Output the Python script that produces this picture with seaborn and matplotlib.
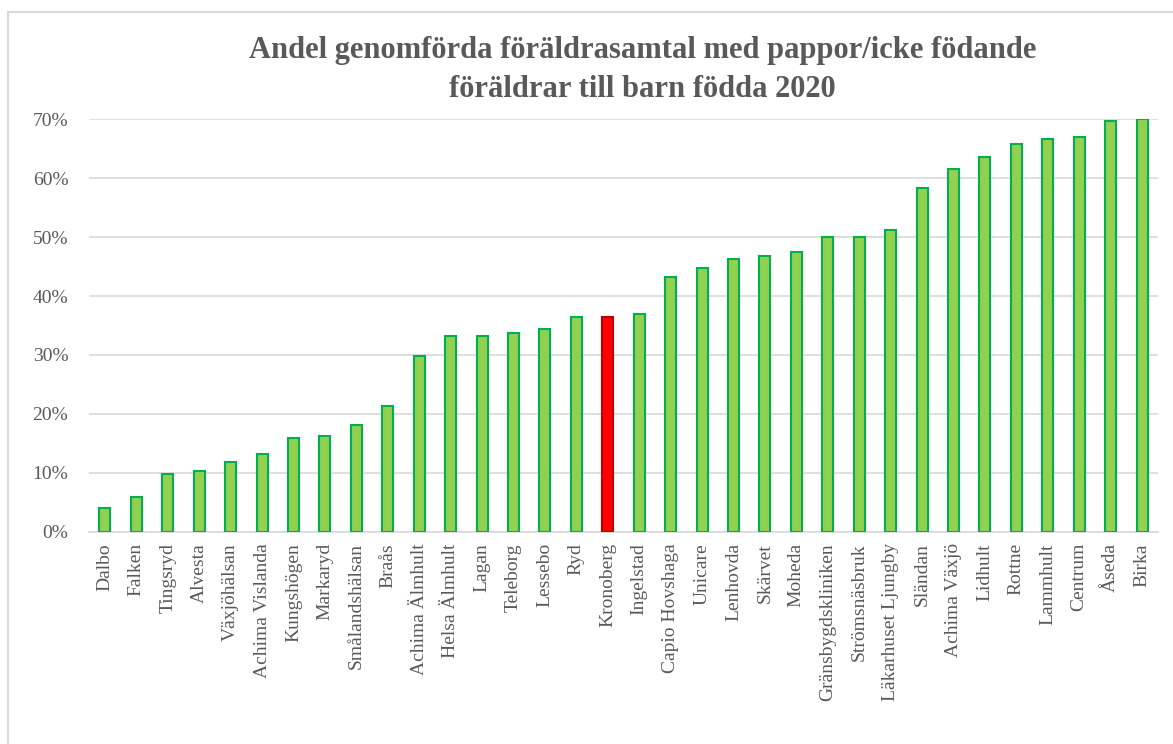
import matplotlib
matplotlib.use("Agg")
import matplotlib.pyplot as plt
import seaborn as sns
import pandas as pd
from matplotlib.patches import Rectangle
from matplotlib.ticker import PercentFormatter

# =======================
# Data
# =======================
units = [
    "Dalbo", "Falken", "Tingsryd", "Alvesta", "Växjöhälsan", "Achima Vislanda",
    "Kungshögen", "Markaryd", "Smålandshälsan", "Braås", "Achima Älmhult",
    "Helsa Älmhult", "Lagan", "Teleborg", "Lessebo", "Ryd", "Kronoberg",
    "Ingelstad", "Capio Hovshaga", "Unicare", "Lenhovda", "Skärvet", "Moheda",
    "Gränsbygdskliniken", "Strömsnäsbruk", "Läkarhuset Ljungby", "Sländan",
    "Achima Växjö", "Lidhult", "Rottne", "Lammhult", "Centrum", "Åseda", "Birka",
]
share = [
    4.0, 5.9, 9.9, 10.4, 11.8, 13.2,
    15.9, 16.2, 18.2, 21.4, 29.8,
    33.3, 33.3, 33.8, 34.4, 36.4, 36.5,
    37.0, 43.3, 44.8, 46.2, 46.8, 47.5,
    50.0, 50.0, 51.2, 58.3,
    61.6, 63.6, 65.8, 66.7, 67.0, 69.6, 70.0,
]
highlight = "Kronoberg"

df = pd.DataFrame({"unit": units, "share": share})
fills = {u: ("#FF0000" if u == highlight else "#92D050") for u in units}
edges = ["#C00000" if u == highlight else "#00B050" for u in units]

# =======================
# Plot
# =======================
sns.set_style("white")
plt.rcParams["font.family"] = ["Liberation Serif", "DejaVu Serif"]

fig = plt.figure(figsize=(11.73, 7.44), dpi=100)
ax = fig.add_axes([0.076, 0.285, 0.911, 0.555])

sns.barplot(data=df, x="unit", y="share", hue="unit", palette=fills,
            saturation=1, legend=False, width=0.35, ax=ax, zorder=3)
for bar, ec in zip(ax.patches, edges):
    bar.set_edgecolor(ec)
    bar.set_linewidth(1.5)

ax.set_ylim(0, 70)
ax.set_yticks(range(0, 71, 10))
ax.yaxis.set_major_formatter(PercentFormatter(decimals=0))
ax.set_xlim(-0.5, len(units) - 0.5)
ax.grid(axis="y", color="#D9D9D9", linewidth=1.2, zorder=0)
ax.set_xlabel("")
ax.set_ylabel("")
for s in ["top", "right", "left"]:
    ax.spines[s].set_visible(False)
ax.spines["bottom"].set_color("#D9D9D9")
ax.spines["bottom"].set_linewidth(1.2)
ax.tick_params(axis="both", length=0, colors="#595959", labelsize=14)
ax.tick_params(axis="x", pad=8)
ax.tick_params(axis="y", pad=15)
plt.setp(ax.get_xticklabels(), rotation=90)

fig.text(0.548, 0.952, "Andel genomförda föräldrasamtal med pappor/icke födande\nföräldrar till barn födda 2020",
         ha="center", va="top", fontsize=22, fontweight="bold", color="#595959",
         linespacing=1.45)

# chart area border
fig.patches.append(Rectangle((8 / 1173, -0.05), 1.1, 1.05 - 12 / 744,
                             transform=fig.transFigure, fill=False,
                             edgecolor="#D9D9D9", linewidth=1.5))

fig.savefig("out.png", dpi=100, facecolor="white")
